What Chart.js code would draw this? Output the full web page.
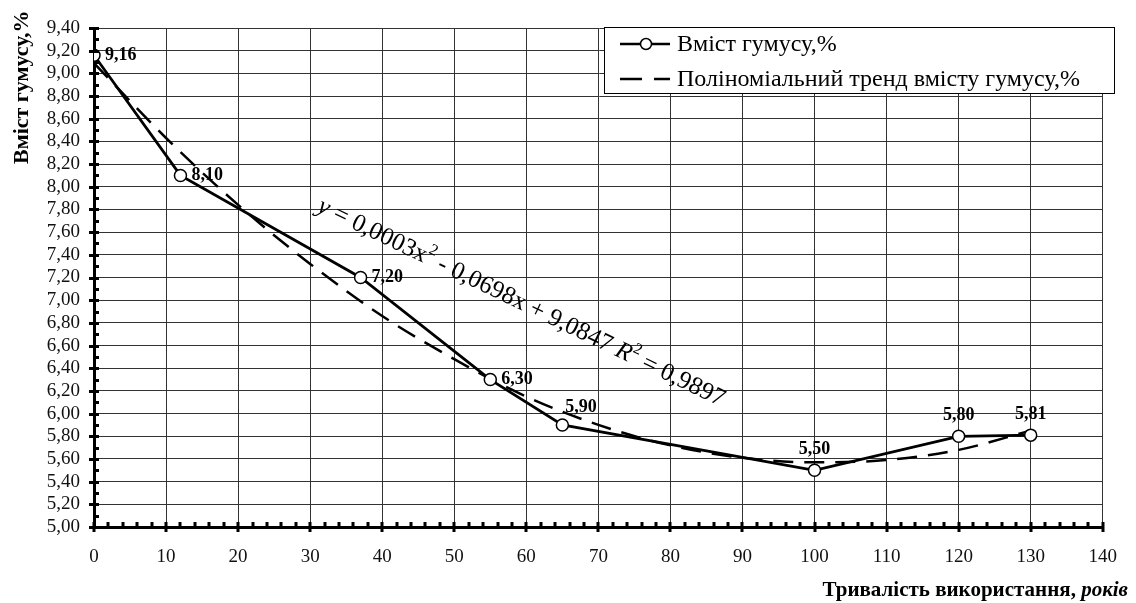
<!DOCTYPE html>
<html lang="uk">
<head>
<meta charset="utf-8">
<title>Вміст гумусу</title>
<script src="https://cdn.jsdelivr.net/npm/chart.js@4.4.1/dist/chart.umd.min.js"></script>
<style>
  html, body { margin: 0; padding: 0; background: #fff; }
  #wrap { width: 1136px; height: 603px; position: relative; }
</style>
</head>
<body>
<div id="wrap"><canvas id="humusChart"></canvas></div>
<script>
// тривалість використання, років / вміст гумусу, %
const years = [0, 12, 37, 55, 65, 100, 120, 130];
const humus = [9.16, 8.10, 7.20, 6.30, 5.90, 5.50, 5.80, 5.81];

// поліноміальний тренд, знятий з кривої
const trendYears = [0, 10, 20, 30, 40, 50, 60, 70, 80, 90, 100, 110, 120, 130];
const trendHumus = [9.09, 8.43, 7.84, 7.32, 6.86, 6.48, 6.15, 5.90, 5.72, 5.61, 5.57, 5.59, 5.68, 5.85];

const xTicks = [0, 10, 20, 30, 40, 50, 60, 70, 80, 90, 100, 110, 120, 130, 140];
const yTicks = [5.0, 5.2, 5.4, 5.6, 5.8, 6.0, 6.2, 6.4, 6.6, 6.8, 7.0, 7.2,
                7.4, 7.6, 7.8, 8.0, 8.2, 8.4, 8.6, 8.8, 9.0, 9.2, 9.4];
const yMin = 5.0, yMax = 9.4, yStep = 0.2;

const seriesName = 'Вміст гумусу,%';
const trendName = 'Поліноміальний тренд вмісту гумусу,%';
const yTitle = 'Вміст гумусу,%';
const xTitle = 'Тривалість використання, ';
const xTitleUnit = 'років';

const SERIF = '"Liberation Serif", "Times New Roman", serif';

// де ставити підпис значення відносно точки
const labelSide = ['right', 'right', 'right', 'right', 'upright', 'up', 'up', 'up'];

const fmt = v => v.toFixed(2).replace('.', ',');

const overlay = {
  id: 'overlay',
  afterDatasetsDraw(chart) {
    const ctx = chart.ctx;
    const xs = chart.scales.x, ys = chart.scales.y;
    const area = chart.chartArea;

    // дрібні поділки та великі засічки на осях
    ctx.save();
    ctx.strokeStyle = '#000';
    ctx.lineWidth = 3;
    ctx.beginPath();
    for (let k = 0; k <= 44; k++) {
      const v = yMin + k * yStep / 2;
      const y = Math.round(ys.getPixelForValue(v)) + 0.5;
      const major = k % 2 === 0;
      ctx.moveTo(area.left - (major ? 5 : 0), y);
      ctx.lineTo(area.left + 5, y);
    }
    for (let v = 0; v <= 140; v += 2) {
      const x = Math.round(xs.getPixelForValue(v));
      const major = v % 10 === 0;
      ctx.moveTo(x, area.bottom - 5);
      ctx.lineTo(x, area.bottom + (major ? 5 : 0));
    }
    ctx.stroke();
    ctx.restore();

    // підписи значень
    ctx.save();
    ctx.fillStyle = '#000';
    ctx.font = 'bold 18px ' + SERIF;
    ctx.textBaseline = 'middle';
    humus.forEach((v, i) => {
      const px = xs.getPixelForValue(years[i]);
      const py = ys.getPixelForValue(v);
      const side = labelSide[i];
      if (side === 'right') {
        ctx.textAlign = 'left';
        ctx.fillText(fmt(v), px + 11, py);
      } else if (side === 'upright') {
        ctx.textAlign = 'left';
        ctx.fillText(fmt(v), px + 3, py - 18);
      } else {
        ctx.textAlign = 'center';
        ctx.fillText(fmt(v), px, py - 21);
      }
    });
    ctx.restore();

    // рівняння тренду
    ctx.save();
    ctx.fillStyle = '#000';
    ctx.translate(316, 211);
    ctx.rotate(25.8 * Math.PI / 180);
    ctx.textBaseline = 'alphabetic';
    ctx.textAlign = 'left';
    const reg = '25px ' + SERIF, ita = 'italic 25px ' + SERIF, sup = '16px ' + SERIF;
    const parts = [
      ['y', ita, 0], [' = 0,0003x', reg, 0], ['2', sup, -11],
      [' - 0,0698x + 9,0847 ', reg, 0], ['R', ita, 0], ['2', sup, -11],
      [' = 0,9897', reg, 0]
    ];
    let cx = 0;
    parts.forEach(([t, f, dy]) => {
      ctx.font = f;
      ctx.fillText(t, cx, dy);
      cx += ctx.measureText(t).width;
    });
    ctx.restore();

    // легенда
    ctx.save();
    const lx = 604, ly = 27, lw = 510, lh = 66;
    ctx.fillStyle = '#fff';
    ctx.fillRect(lx, ly, lw, lh);
    ctx.strokeStyle = '#000';
    ctx.lineWidth = 1;
    ctx.strokeRect(lx + 0.5, ly + 0.5, lw, lh);
    ctx.lineWidth = 2.5;
    ctx.beginPath();
    ctx.moveTo(620, 44); ctx.lineTo(670, 44);
    ctx.stroke();
    ctx.beginPath();
    ctx.arc(646, 44, 5.5, 0, Math.PI * 2);
    ctx.fillStyle = '#fff';
    ctx.fill();
    ctx.lineWidth = 1.5;
    ctx.stroke();
    ctx.lineWidth = 2.5;
    ctx.setLineDash([22, 12]);
    ctx.beginPath();
    ctx.moveTo(620, 79); ctx.lineTo(670, 79);
    ctx.stroke();
    ctx.setLineDash([]);
    ctx.fillStyle = '#000';
    ctx.font = '24px ' + SERIF;
    ctx.textBaseline = 'middle';
    ctx.fillText(seriesName, 677, 45);
    ctx.fillText(trendName, 677, 80);
    ctx.restore();

    // назви осей
    ctx.save();
    ctx.fillStyle = '#000';
    ctx.font = 'bold 22px ' + SERIF;
    ctx.translate(22, 164);
    ctx.rotate(-Math.PI / 2);
    ctx.textAlign = 'left';
    ctx.textBaseline = 'middle';
    ctx.fillText(yTitle, 0, 0);
    ctx.restore();

    ctx.save();
    ctx.fillStyle = '#000';
    ctx.textBaseline = 'alphabetic';
    ctx.textAlign = 'right';
    ctx.font = 'bold italic 21px ' + SERIF;
    ctx.fillText(xTitleUnit, 1128, 596);
    const uw = ctx.measureText(xTitleUnit).width;
    ctx.font = 'bold 21px ' + SERIF;
    ctx.fillText(xTitle, 1128 - uw, 596);
    ctx.restore();
  }
};

new Chart(document.getElementById('humusChart'), {
  type: 'line',
  data: {
    datasets: [
      {
        label: seriesName,
        data: years.map((x, i) => ({ x, y: humus[i] })),
        borderColor: '#000',
        borderWidth: 2.8,
        pointRadius: 6,
        pointBorderWidth: 1.5,
        pointBackgroundColor: '#fff',
        pointBorderColor: '#000',
        tension: 0,
        order: 0
      },
      {
        label: trendName,
        data: trendYears.map((x, i) => ({ x, y: trendHumus[i] })),
        borderColor: '#000',
        borderWidth: 2.5,
        borderDash: [20, 11],
        pointRadius: 0,
        tension: 0.4,
        cubicInterpolationMode: 'monotone',
        order: 1
      }
    ]
  },
  options: {
    responsive: true,
    maintainAspectRatio: false,
    animation: false,
    layout: { padding: { top: 28, right: 22, left: 0, bottom: 0 } },
    plugins: {
      legend: { display: false },
      tooltip: { enabled: false }
    },
    scales: {
      x: {
        type: 'linear',
        min: 0,
        max: 140,
        afterFit: s => { s.height = 76; },
        afterBuildTicks: s => { s.ticks = xTicks.map(v => ({ value: v })); },
        ticks: {
          autoSkip: false,
          maxRotation: 0,
          padding: 19,
          color: '#111',
          font: { family: SERIF, size: 19 },
          callback: v => String(v)
        },
        grid: { color: '#333', lineWidth: 1, drawTicks: false },
        border: { color: '#000', width: 3 }
      },
      y: {
        type: 'linear',
        min: yMin,
        max: yMax,
        afterFit: s => { s.width = 94; },
        afterBuildTicks: s => { s.ticks = yTicks.map(v => ({ value: v })); },
        ticks: {
          autoSkip: false,
          padding: 14,
          color: '#111',
          font: { family: SERIF, size: 19 },
          callback: v => fmt(v)
        },
        grid: { color: '#333', lineWidth: 1, drawTicks: false },
        border: { color: '#000', width: 3 }
      }
    }
  },
  plugins: [overlay]
});
</script>
</body>
</html>
